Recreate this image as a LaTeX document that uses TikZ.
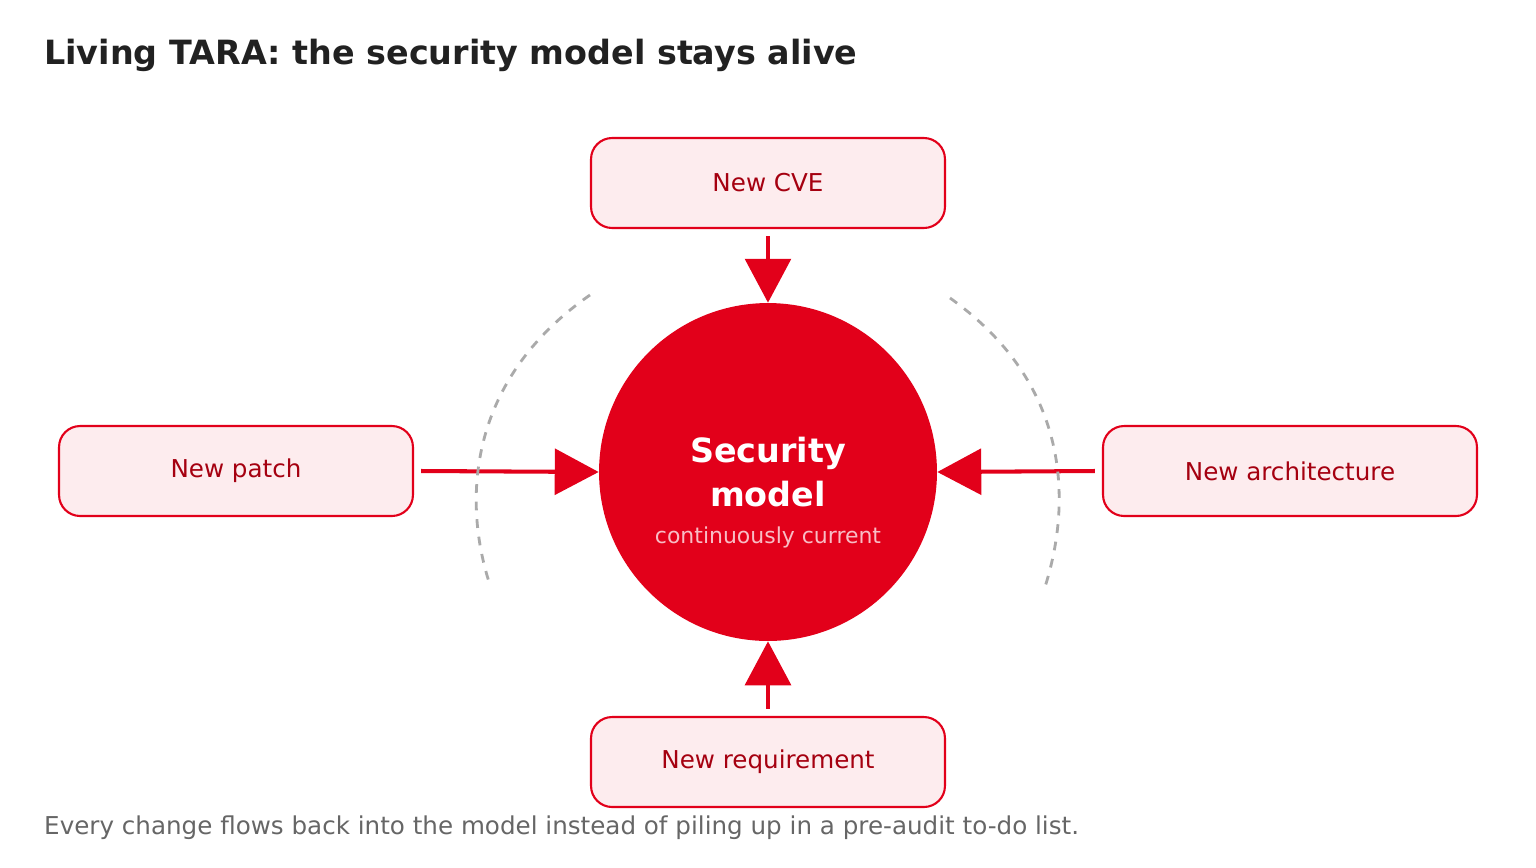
\documentclass[tikz,border=0pt]{standalone}
\usepackage{fontspec}
\setmainfont{DejaVu Sans}
\usetikzlibrary{arrows.meta,positioning}
\definecolor{tarared}{HTML}{E2001A}
\definecolor{tarafill}{HTML}{FDECEE}
\definecolor{taratext}{HTML}{A50010}
\definecolor{arcgray}{HTML}{AAAAAA}
\tikzset{
  event/.style={draw=tarared, line width=1.2pt, fill=tarafill, rounded corners=12pt,
    minimum width=7.08cm, minimum height=1.8cm, text=taratext, font=\fontsize{14}{17}\selectfont},
  feed/.style={draw=tarared, line width=2.3pt, -{Triangle[width=26pt,length=25pt]}},
  drift/.style={draw=arcgray, line width=1.6pt, dash pattern=on 5pt off 5pt},
}
\begin{document}
\begin{tikzpicture}[x=0.02cm,y=-0.02cm]
            \useasboundingbox (0,0) rectangle (1536,867);
            \node[anchor=west, text=black!87, font=\bfseries\fontsize{19}{23}\selectfont] (title) at (38,55) {Living TARA: the security model stays alive};
            \node[circle, fill=tarared, minimum size=6.76cm, inner sep=0pt] (model) at (768,472) {};
            \node[text=white, font=\bfseries\fontsize{19}{25}\selectfont, align=center] (modelname) at (768,472) {Security\\model};
            \node[text=tarafill!80!tarared, font=\fontsize{12.5}{15}\selectfont] (modelsub) at (768,537) {continuously current};
            \node[event] (cve) at (768,183) {New CVE};
            \node[event] (patch) at (236,471) {New patch};
            \node[event, minimum width=7.48cm] (arch) at (1290,471) {New architecture};
            \node[event] (req) at (768,762) {New requirement};
            % incoming changes
            \draw[feed] ([yshift=-4pt]cve.south) -- (model.north);
            \draw[feed] ([xshift=4pt]patch.east) -- (model.west);
            \draw[feed] ([xshift=-4pt]arch.west) -- (model.east);
            \draw[feed] ([yshift=4pt]req.north) -- (model.south);
            % side arcs
            \draw[drift] (590,295) .. controls (468,380) and (462,500) .. (490,585);
            \draw[drift] (950,298) .. controls (1072,385) and (1072,505) .. (1044,590);
            \node[anchor=west, text=black!60, font=\fontsize{14}{17}\selectfont] (footer) at (38,828) {Every change flows back into the model instead of piling up in a pre-audit to-do list.};
\end{tikzpicture}
\end{document}
